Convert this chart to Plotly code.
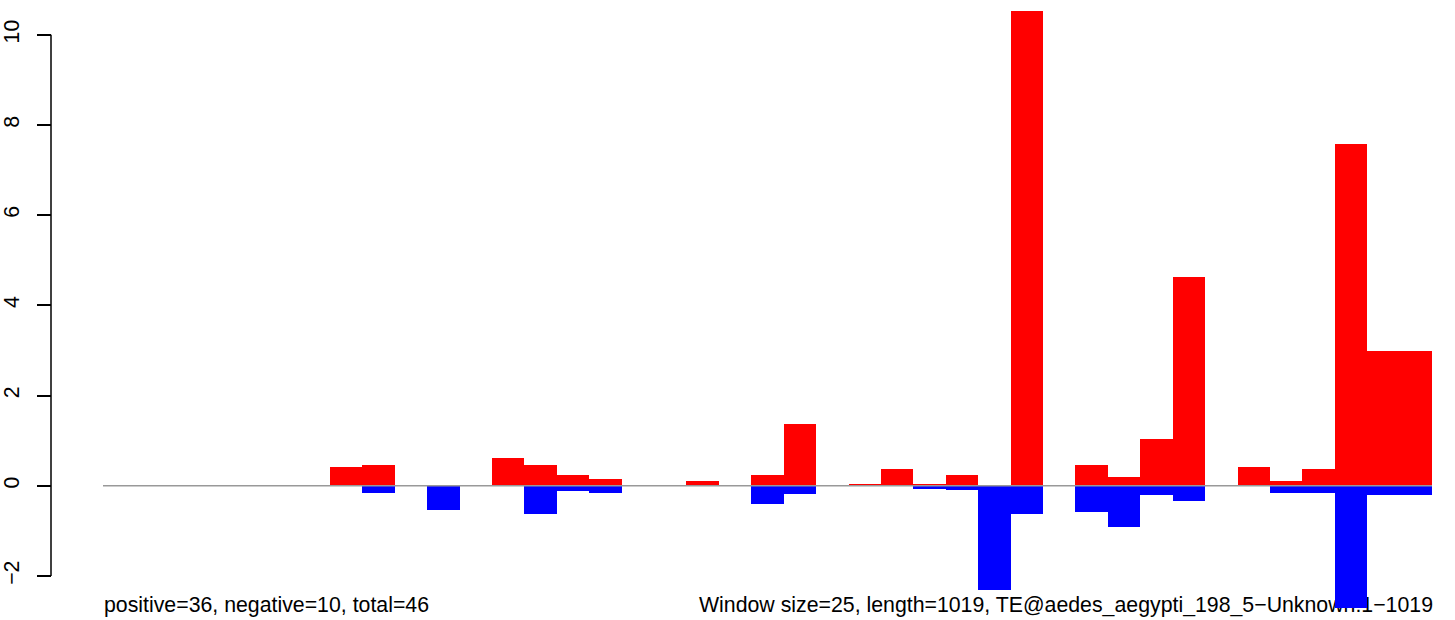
import plotly.graph_objects as go

# window index (window size 25 over length 1019 -> 41 windows)
windows = list(range(41))
positive = [0, 0, 0, 0, 0, 0, 0, 0.41, 0.46, 0, 0, 0, 0.61, 0.46, 0.24, 0.15, 0, 0, 0.11, 0,
            0.24, 1.37, 0, 0.04, 0.37, 0.04, 0.24, 0, 10.52, 0, 0.46, 0.20, 1.04, 4.63, 0,
            0.41, 0.10, 0.38, 7.58, 2.99, 2.99]
negative = [0, 0, 0, 0, 0, 0, 0, 0, -0.155, 0, -0.53, 0, 0, -0.62, -0.11, -0.155, 0, 0, 0, 0,
            -0.41, -0.19, 0, 0, 0, -0.08, -0.10, -2.31, -0.62, 0, -0.58, -0.91, -0.20, -0.33, 0,
            0, -0.16, -0.16, -2.71, -0.20, -0.20]
ytick_vals = [-2, 0, 2, 4, 6, 8, 10]
ytick_text = ["\u22122", "0", "2", "4", "6", "8", "10"]
left_label = "positive=36, negative=10, total=46"
right_label = "Window size=25, length=1019, TE@aedes_aegypti_198_5\u2212Unknown:1\u22121019"

W, H = 1455, 620
axis_x, plot_left, plot_right = 51, 103, 1432
plot_top, plot_bottom = 11, 608
ML, MR, MT, MB = axis_x, W - plot_right, plot_top, H - plot_bottom
PW, PH = W - ML - MR, H - MT - MB


def px_x(p):
    return (p - ML) / PW


def px_y(p):
    return (H - MB - p) / PH


FONT = "Liberation Sans, Arial, Helvetica, sans-serif"
FS = 21.3

fig = go.Figure()
fig.add_trace(go.Bar(x=windows, y=positive, marker=dict(color="#FF0000", line=dict(width=0)),
                     width=1.0, hoverinfo="skip"))
fig.add_trace(go.Bar(x=windows, y=negative, marker=dict(color="#0000FF", line=dict(width=0)),
                     width=1.0, hoverinfo="skip"))

text_y0, text_y1 = 617, 589
shapes = [
    # R-style y axis line from -2 to 10
    dict(type="line", xref="paper", yref="y", x0=0, x1=0, y0=-2, y1=10,
         line=dict(color="black", width=1.5), layer="above"),
    # zero line
    dict(type="line", xref="x domain", yref="y", x0=0, x1=1, y0=0, y1=0,
         line=dict(color="#999999", width=1.5), layer="above"),
    # bottom texts (drawn below the bars)
    dict(type="rect", xref="paper", yref="paper",
         x0=px_x(plot_left - 2), x1=px_x(650), y0=px_y(text_y0), y1=px_y(text_y1),
         line=dict(width=0), fillcolor="rgba(0,0,0,0)", layer="below",
         label=dict(text=left_label, textposition="middle left", padding=0,
                    font=dict(family=FONT, size=FS, color="black"))),
    dict(type="rect", xref="paper", yref="paper",
         x0=px_x(650), x1=px_x(plot_right + 4), y0=px_y(text_y0), y1=px_y(text_y1),
         line=dict(width=0), fillcolor="rgba(0,0,0,0)", layer="below",
         label=dict(text=right_label, textposition="middle right", padding=0,
                    font=dict(family=FONT, size=FS, color="black"))),
]

fig.update_layout(
    width=W, height=H,
    margin=dict(l=ML, r=MR, t=MT, b=MB, pad=0, autoexpand=False),
    paper_bgcolor="white", plot_bgcolor="white",
    barmode="overlay", bargap=0,
    showlegend=False,
    font=dict(family=FONT, size=FS, color="black"),
    xaxis=dict(domain=[px_x(plot_left), 1], range=[-0.5, 40.5], visible=False,
               showgrid=False, zeroline=False, fixedrange=True, automargin=False),
    yaxis=dict(anchor="free", position=0, range=[-2.712, 10.526],
               showgrid=False, zeroline=False, showline=False, automargin=False,
               tickmode="array", tickvals=ytick_vals, ticktext=ytick_text,
               ticks="outside", ticklen=14, tickwidth=1.5, tickcolor="black",
               tickangle=-90, ticklabelstandoff=9,
               tickfont=dict(family=FONT, size=FS, color="black"),
               fixedrange=True),
    shapes=shapes,
)

fig.write_html(
    "out.html",
    config={"displayModeBar": False},
    post_script="document.body.style.margin='0';document.body.style.overflow='hidden';",
)
